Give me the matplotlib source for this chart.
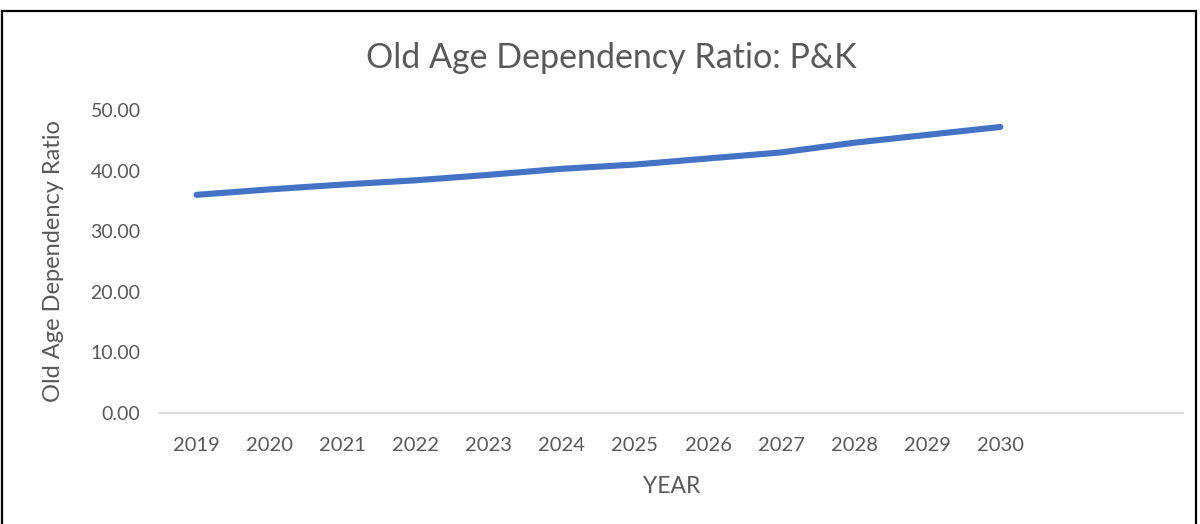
import matplotlib
matplotlib.use("Agg")
import matplotlib.pyplot as plt
from matplotlib.patches import Rectangle

years = ["2019", "2020", "2021", "2022", "2023", "2024", "2025", "2026", "2027", "2028", "2029", "2030"]
ratio = [36.0, 36.9, 37.7, 38.4, 39.3, 40.3, 41.0, 42.0, 43.0, 44.6, 45.9, 47.2]
empty_slots = ["", ""]
categories = years + empty_slots
yticks = [0, 10, 20, 30, 40, 50]

TXT = "#595959"
plt.rcParams['font.family'] = ['Lato', 'DejaVu Sans']

fig = plt.figure(figsize=(12, 5.24), dpi=100)
ax = fig.add_axes([160/1200, 1-413/524, (1183-160)/1200, (413-110)/524])

x = list(range(len(years)))
ax.plot(x, ratio, color="#4472C4", linewidth=4.4, solid_capstyle="round", solid_joinstyle="round")

ax.set_xlim(-0.5, len(categories) - 0.5)
ax.set_ylim(0, 50)
ax.set_xticks(range(len(categories)))
ax.set_xticklabels(categories)
ax.set_yticks(yticks)
ax.set_yticklabels([f"{v:.2f}" for v in yticks])

for s in ["top", "right", "left"]:
    ax.spines[s].set_visible(False)
ax.spines["bottom"].set_color("#D9D9D9")
ax.spines["bottom"].set_linewidth(1.5)
ax.tick_params(axis="both", length=0, colors=TXT)
ax.tick_params(axis="x", pad=17, labelsize=14.5)
ax.tick_params(axis="y", pad=14, labelsize=14)

fig.text(611/1200, 1 - 58/524, "Old Age Dependency Ratio: P&K", fontsize=24.5,
         color=TXT, ha="center", va="center")
ax.set_xlabel("YEAR", fontsize=16.5, color=TXT, labelpad=16)
ax.set_ylabel("Old Age Dependency Ratio", fontsize=17, color=TXT, labelpad=19)

fig.patches.append(Rectangle((2/1200, -0.05), 1194/1200, 1 - 11/524 + 0.05,
                             transform=fig.transFigure, fill=False,
                             edgecolor="black", linewidth=1.6))

fig.savefig("out.png", dpi=100, facecolor="white")
